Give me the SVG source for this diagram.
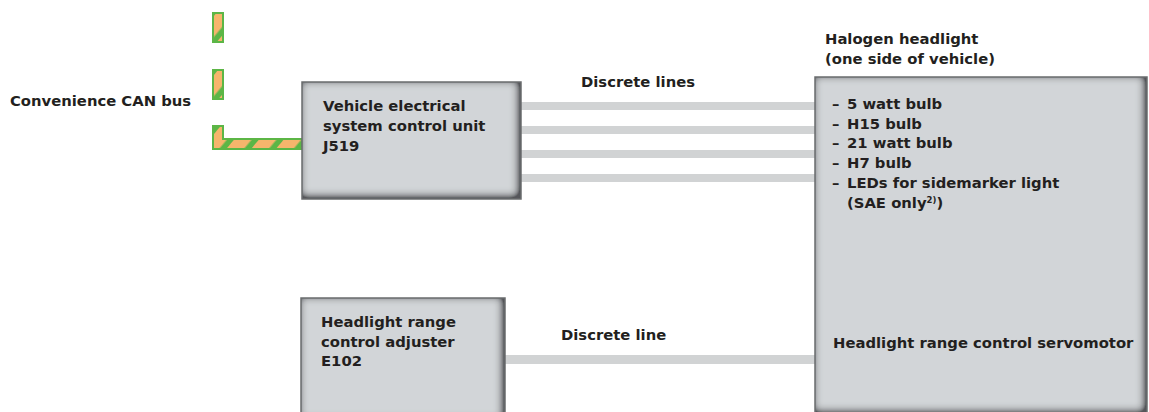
<svg xmlns="http://www.w3.org/2000/svg" width="1149" height="412" viewBox="0 0 1149 412">
<style>
text{font-family:"DejaVu Sans","Liberation Sans",sans-serif;font-weight:bold;font-size:14.8px;fill:#231f20}
.box{fill:#d2d5d8}
.edge{fill:none;stroke:#6a6c6e;stroke-width:1.5}
.wire{fill:#d1d3d4}
.busg{fill:#5cb646}
</style>
<defs>
<filter id="bev" x="-10%" y="-10%" width="120%" height="120%">
<feFlood flood-color="#54575a" result="f"/>
<feComposite in="f" in2="SourceAlpha" operator="out" result="outside"/>
<feOffset in="outside" dx="-2" dy="-2" result="off"/>
<feGaussianBlur in="off" stdDeviation="5" result="blur"/>
<feComponentTransfer in="blur" result="boost"><feFuncA type="linear" slope="1.7"/></feComponentTransfer>
<feComposite in="boost" in2="SourceAlpha" operator="in" result="inner"/>
<feMerge><feMergeNode in="SourceGraphic"/><feMergeNode in="inner"/></feMerge>
</filter>
<pattern id="stripe" width="19" height="40" patternUnits="userSpaceOnUse" patternTransform="translate(4,0) rotate(40)">
<rect x="0" y="0" width="19" height="40" fill="#5cb646"/>
<rect x="0" y="0" width="13.5" height="40" fill="#f6b56c"/>
</pattern>
</defs>

<g id="connectors">
<g id="can-bus">
<rect class="busg" x="212" y="12" width="12" height="31"/>
<rect x="214" y="14" width="8" height="27" fill="url(#stripe)"/>
<rect class="busg" x="212" y="69" width="12" height="31"/>
<rect x="214" y="71" width="8" height="27" fill="url(#stripe)"/>
<path class="busg" d="M212 125 H224 V138 H302 V150 H212 Z"/>
<path d="M214 127 H222 V140 H302 V148 H214 Z" fill="url(#stripe)"/>
</g>
<rect class="wire" x="521" y="102" width="294" height="8"/>
<rect class="wire" x="521" y="126" width="294" height="8"/>
<rect class="wire" x="521" y="150" width="294" height="8"/>
<rect class="wire" x="521" y="174" width="294" height="8"/>
<rect class="wire" x="505" y="355" width="310" height="9"/>
<text x="581" y="87">Discrete lines</text>
<text x="561" y="340">Discrete line</text>
</g>

<text id="can-label" x="10" y="106">Convenience CAN bus</text>

<g id="j519">
<rect class="box" x="302" y="82" width="219" height="117" filter="url(#bev)"/>
<rect class="edge" x="302" y="82" width="219" height="117"/>
<text x="323" y="110.5">Vehicle electrical</text>
<text x="323" y="130.5">system control unit</text>
<text x="323" y="150.5">J519</text>
</g>

<g id="e102">
<rect class="box" x="301" y="298" width="204" height="124" filter="url(#bev)"/>
<rect class="edge" x="301" y="298" width="204" height="124"/>
<text x="321" y="327">Headlight range</text>
<text x="321" y="346.5">control adjuster</text>
<text x="321" y="366">E102</text>
</g>

<g id="headlight">
<text x="825" y="43.5">Halogen headlight</text>
<text x="825" y="63.5">(one side of vehicle)</text>
<rect class="box" x="815" y="77" width="332" height="337" filter="url(#bev)"/>
<rect class="edge" x="815" y="77" width="332" height="337"/>
<text x="832" y="109">–</text><text x="847" y="109">5 watt bulb</text>
<text x="832" y="128.5">–</text><text x="847" y="128.5">H15 bulb</text>
<text x="832" y="148">–</text><text x="847" y="148">21 watt bulb</text>
<text x="832" y="168">–</text><text x="847" y="168">H7 bulb</text>
<text x="832" y="188">–</text><text x="847" y="188">LEDs for sidemarker light</text>
<text x="847" y="207.5">(SAE only<tspan font-size="8.5" dy="-5">2)</tspan><tspan dy="5">)</tspan></text>
<text x="833" y="348.3">Headlight range control servomotor</text>
</g>
</svg>
